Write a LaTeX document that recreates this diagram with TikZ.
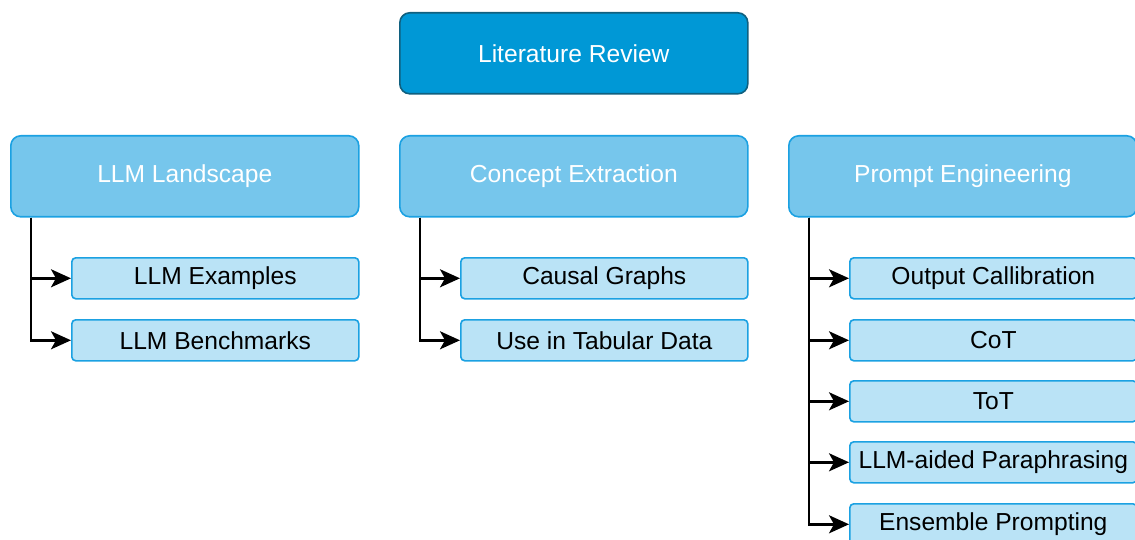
\documentclass[tikz,border=0pt]{standalone}
\usepackage{fontspec}
\setmainfont{Liberation Sans}
\usetikzlibrary{arrows.meta}
\definecolor{rootfill}{RGB}{0,152,214}
\definecolor{rootline}{RGB}{16,96,127}
\definecolor{midfill}{RGB}{118,198,236}
\definecolor{boxline}{RGB}{27,161,226}
\definecolor{leaffill}{RGB}{186,227,246}
\begin{document}
\begin{tikzpicture}[x=1pt,y=-1pt,
  base/.style={rectangle,anchor=north west,inner sep=0pt,line width=1.6pt,
    font=\fontsize{24.6}{28}\selectfont},
  rootbox/.style={base,fill=rootfill,draw=rootline,rounded corners=10pt,
    minimum width=348pt,minimum height=81pt,text=white},
  midbox/.style={base,fill=midfill,draw=boxline,rounded corners=10pt,
    minimum width=348pt,minimum height=81pt,text=white},
  leafbox/.style={base,fill=leaffill,draw=boxline,rounded corners=4pt,
    minimum width=287pt,minimum height=41pt,text=black},
  link/.style={line width=2.4pt,-{Stealth[length=20pt,width=18pt,inset=5pt]}}
]
\useasboundingbox (0,0) rectangle (1135,540);

\node[rootbox] (root) at (399,12) {Literature Review};

\node[midbox] (llm) at (10,135) {LLM Landscape};
\node[midbox] (concept) at (399,135) {Concept Extraction};
\node[midbox] (prompt) at (788,135) {Prompt Engineering};

\node[leafbox] (llmex) at (71,257) {LLM Examples};
\node[leafbox] (llmbench) at (71,319) {LLM Benchmarks};

\node[leafbox] (causal) at (460,257) {Causal Graphs};
\node[leafbox] (tabular) at (460,319) {Use in Tabular Data};

\node[leafbox] (calib) at (849,257) {Output Callibration};
\node[leafbox] (cot) at (849,319) {CoT};
\node[leafbox] (tot) at (849,380) {ToT};
\node[leafbox] (para) at (849,441) {LLM-aided Paraphrasing};
\node[leafbox] (ens) at (849,503) {Ensemble Prompting};

% elbow connectors: each group's trunk drops from its box and turns into an item
\foreach \p/\tx/\kids in {llm/31/{llmex,llmbench},
                          concept/420/{causal,tabular},
                          prompt/809/{calib,cot,tot,para,ens}}{
  \foreach \k in \kids {
    \draw[link] (\p.south west -| \tx,0) |- (\k.west);
  }
}
\end{tikzpicture}
\end{document}
